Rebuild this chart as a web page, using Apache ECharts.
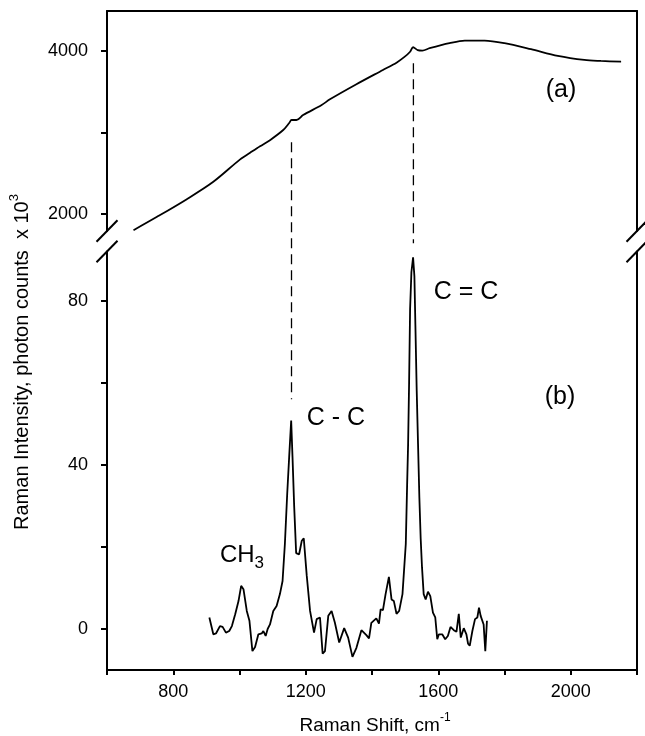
<!DOCTYPE html>
<html>
<head>
    <meta charset="utf-8">
    <title>Raman spectrum</title>
    <script src="https://cdn.jsdelivr.net/npm/echarts@6/dist/echarts.min.js"></script>
    <style>
        * { margin: 0; padding: 0 }
        html, body { background: #fff; }
        #main { width: 645px; height: 736px; }
    </style>
</head>
<body>
<div id="main"></div>
<script>
    // (a) raw spectrum, photon counts x 10^3
    var shiftA = [680, 751, 841, 921, 1002, 1032, 1062, 1092, 1132, 1150, 1157, 1172, 1192, 1248, 1273, 1353, 1433, 1474, 1499, 1515, 1524, 1538, 1552, 1574, 1634, 1680, 1740, 1800, 1880, 1961, 2041, 2091, 2152];
    var countsA = [1800, 1964, 2181, 2394, 2669, 2750, 2830, 2905, 3029, 3115, 3152, 3152, 3213, 3336, 3406, 3591, 3766, 3856, 3930, 3990, 4045, 4010, 4004, 4033, 4095, 4127, 4127, 4095, 4021, 3939, 3889, 3877, 3868];

    // (b) background-subtracted spectrum
    var shiftB = [909, 921, 929, 941, 949, 959, 969, 977, 987, 997, 1005, 1012, 1022, 1030, 1039, 1047, 1057, 1067, 1072, 1079,
        1085, 1092, 1102, 1112, 1122, 1130, 1137, 1144, 1150, 1156, 1160, 1165, 1171, 1180, 1188, 1194, 1203, 1213, 1225, 1233,
        1243, 1251, 1258, 1268, 1278, 1288, 1301, 1316, 1328, 1341, 1353, 1368, 1383, 1391, 1398, 1413, 1421, 1426, 1433, 1441,
        1451, 1459, 1466, 1474, 1482, 1492, 1502, 1506, 1509, 1512, 1515, 1519, 1524, 1528, 1531, 1535, 1539, 1543, 1547, 1551,
        1556, 1562, 1569, 1576, 1584, 1591, 1597, 1602, 1612, 1621, 1629, 1637, 1647, 1655, 1662, 1668, 1677, 1685, 1690, 1695,
        1703, 1711, 1718, 1723, 1728, 1733, 1737, 1742, 1747];
    var countsB = [2.8, -1.3, -1.1, 0.7, 0.5, -0.9, -0.5, 0.7, 3.6, 6.8, 10.5, 9.7, 4.4, 2.0, -5.4, -4.4, -1.3, -1.1, -0.5, -1.7,
        0, 1.1, 4.4, 5.6, 8.5, 11.7, 20.7, 32.9, 42, 50.8, 42, 30, 18.5, 18.2, 21.5, 22.1, 13, 4.4, -0.9, 2.4,
        2.8, -6.0, -5.4, 3.2, 4.4, 1.5, -3.3, 0.2, -2.1, -6.8, -4.6, -0.3, -1.5, -2.3, 1.5, 2.6, 1.3, 4.8, 4.6, 8.5,
        12.7, 7.2, 6.8, 3.7, 4.4, 8.5, 20.7, 35, 45, 60, 78, 87, 90.6, 86, 74, 58, 45, 32, 22, 15,
        8.5, 7.2, 9.1, 8.0, 4.0, 2.8, -2.5, -1.3, -1.3, -2.5, -1.7, 0.5, -0.3, -0.7, 3.7, -2.1, 0.2, -1.3, -3.6, -4.1,
        -0.5, 2.4, 2.8, 5.2, 3.2, 3.4, 1.1, -5.4, 2.0];

    // ticks / labels
    var xLabels = [800, 1200, 1600, 2000];
    var yTicksA = [2000, 3000, 4000];
    var yLabelsA = [2000, 4000];
    var yTicksB = [0, 20, 40, 60, 80];
    var yLabelsB = [0, 40, 80];

    // dashed guide lines: shift, top value in (a), bottom value in (b)
    var guideShift = [1157, 1525];
    var guideTopA = [2880, 3850];
    var guideBottomB = [56, 94];

    var FONT = '"Liberation Sans", Arial, sans-serif';
    var black = '#000';

    function toPairs(xs, ys) {
        var out = [];
        for (var i = 0; i < xs.length; i++) {
            out.push([xs[i], ys[i]]);
        }
        return out;
    }
    function plain(v) { return String(v); }

    var lineAxis = { show: true, onZero: false, lineStyle: { color: black, width: 2 } };
    var tickStyle = { color: black, width: 2 };
    var noTick = { show: false };
    var noLabel = { show: false };
    var noSplit = { show: false };

    var chart = echarts.init(document.getElementById('main'));

    var option = {
        animation: false,
        backgroundColor: '#fff',
        grid: [
            { left: 107, right: 8, top: 11, height: 220 },
            { left: 107, right: 8, top: 251.5, height: 418.5 }
        ],
        xAxis: [
            {
                gridIndex: 0, type: 'value', min: 600, max: 2200, position: 'top',
                axisLine: lineAxis, axisTick: noTick, axisLabel: noLabel, splitLine: noSplit
            },
            {
                gridIndex: 1, type: 'value', min: 600, max: 2200, interval: 200, position: 'bottom',
                axisLine: lineAxis,
                axisTick: { show: true, inside: false, length: 5, lineStyle: tickStyle },
                axisLabel: {
                    color: black, fontSize: 18, fontFamily: FONT, margin: 13,
                    formatter: function (v) { return xLabels.indexOf(v) >= 0 ? String(v) : ''; }
                },
                splitLine: noSplit
            }
        ],
        yAxis: [
            {
                gridIndex: 0, type: 'value', min: 1790, max: 4490,
                axisLine: lineAxis,
                axisTick: { show: true, inside: false, length: 6, lineStyle: tickStyle, customValues: yTicksA },
                axisLabel: { color: black, fontSize: 18, fontFamily: FONT, margin: 19, customValues: yLabelsA, formatter: plain },
                splitLine: noSplit
            },
            {
                gridIndex: 0, type: 'value', min: 1790, max: 4490, position: 'right',
                axisLine: lineAxis, axisTick: noTick, axisLabel: noLabel, splitLine: noSplit
            },
            {
                gridIndex: 1, type: 'value', min: -10, max: 92,
                axisLine: lineAxis,
                axisTick: { show: true, inside: false, length: 6, lineStyle: tickStyle, customValues: yTicksB },
                axisLabel: { color: black, fontSize: 18, fontFamily: FONT, margin: 19, customValues: yLabelsB, formatter: plain },
                splitLine: noSplit
            },
            {
                gridIndex: 1, type: 'value', min: -10, max: 92, position: 'right',
                axisLine: lineAxis, axisTick: noTick, axisLabel: noLabel, splitLine: noSplit
            }
        ],
        series: [
            {
                name: '(a)', type: 'line', xAxisIndex: 0, yAxisIndex: 0,
                data: toPairs(shiftA, countsA), smooth: 0.3, showSymbol: false,
                lineStyle: { color: black, width: 1.8 }
            },
            {
                name: '(b)', type: 'line', xAxisIndex: 1, yAxisIndex: 2,
                data: toPairs(shiftB, countsB), showSymbol: false,
                lineStyle: { color: black, width: 1.8 }
            }
        ]
    };
    chart.setOption(option);

    // annotations, axis titles, break marks
    function pxA(x, y) { return chart.convertToPixel({ xAxisIndex: 0, yAxisIndex: 0 }, [x, y]); }
    function pxB(x, y) { return chart.convertToPixel({ xAxisIndex: 1, yAxisIndex: 2 }, [x, y]); }

    var gfx = [];

    for (var i = 0; i < guideShift.length; i++) {
        var p1 = pxA(guideShift[i], guideTopA[i]);
        var p2 = pxB(guideShift[i], guideBottomB[i]);
        gfx.push({
            type: 'line', silent: true,
            shape: { x1: p1[0], y1: p1[1], x2: p2[0], y2: p2[1] },
            style: { stroke: black, lineWidth: 1.3, lineDash: [10, 6] }
        });
    }

    // axis break slashes, centred on the ends of the two panels
    var gridA = chart.getModel().getComponent('grid', 0).coordinateSystem.getRect();
    var gridB = chart.getModel().getComponent('grid', 1).coordinateSystem.getRect();
    var breakX = [gridA.x, gridA.x + gridA.width];
    var breakY = [gridA.y + gridA.height, gridB.y];
    breakX.forEach(function (bx) {
        breakY.forEach(function (by) {
            gfx.push({
                type: 'line', silent: true,
                shape: { x1: bx - 10.5, y1: by + 10.8, x2: bx + 10.5, y2: by - 10.8 },
                style: { stroke: black, lineWidth: 2 }
            });
        });
    });

    function label(text, x, y, size) {
        return {
            type: 'text', silent: true, x: x, y: y,
            style: { text: text, fill: black, font: size + 'px ' + FONT, align: 'center', verticalAlign: 'middle' }
        };
    }
    gfx.push(label('(a)', 561, 90, 25));
    gfx.push(label('(b)', 560, 397, 25));
    gfx.push(label('C = C', 466, 292, 25));
    gfx.push(label('C - C', 336, 418, 25));

    gfx.push({
        type: 'text', silent: true, x: 242, y: 555,
        style: {
            text: '{m|CH}{s|3}', align: 'center', verticalAlign: 'middle',
            rich: {
                m: { fontSize: 24, fontFamily: FONT, fill: black, lineHeight: 34 },
                s: { fontSize: 17, fontFamily: FONT, fill: black, verticalAlign: 'bottom', lineHeight: 17 }
            }
        }
    });

    // y title (rotated) and x title with super-scripts
    gfx.push({
        type: 'text', silent: true, x: 22, y: 362, rotation: Math.PI / 2,
        style: {
            text: '{m|Raman Intensity, photon counts  x 10}{s|3}', align: 'center', verticalAlign: 'middle',
            rich: {
                m: { fontSize: 20, fontFamily: FONT, fill: black, lineHeight: 28 },
                s: { fontSize: 13, fontFamily: FONT, fill: black, verticalAlign: 'top', lineHeight: 13 }
            }
        }
    });
    gfx.push({
        type: 'text', silent: true, x: 375, y: 726,
        style: {
            text: '{m|Raman Shift, cm}{s|-1}', align: 'center', verticalAlign: 'middle',
            rich: {
                m: { fontSize: 19, fontFamily: FONT, fill: black, lineHeight: 28 },
                s: { fontSize: 12, fontFamily: FONT, fill: black, verticalAlign: 'top', lineHeight: 12 }
            }
        }
    });

    chart.setOption({ graphic: gfx });
</script>
</body>
</html>
